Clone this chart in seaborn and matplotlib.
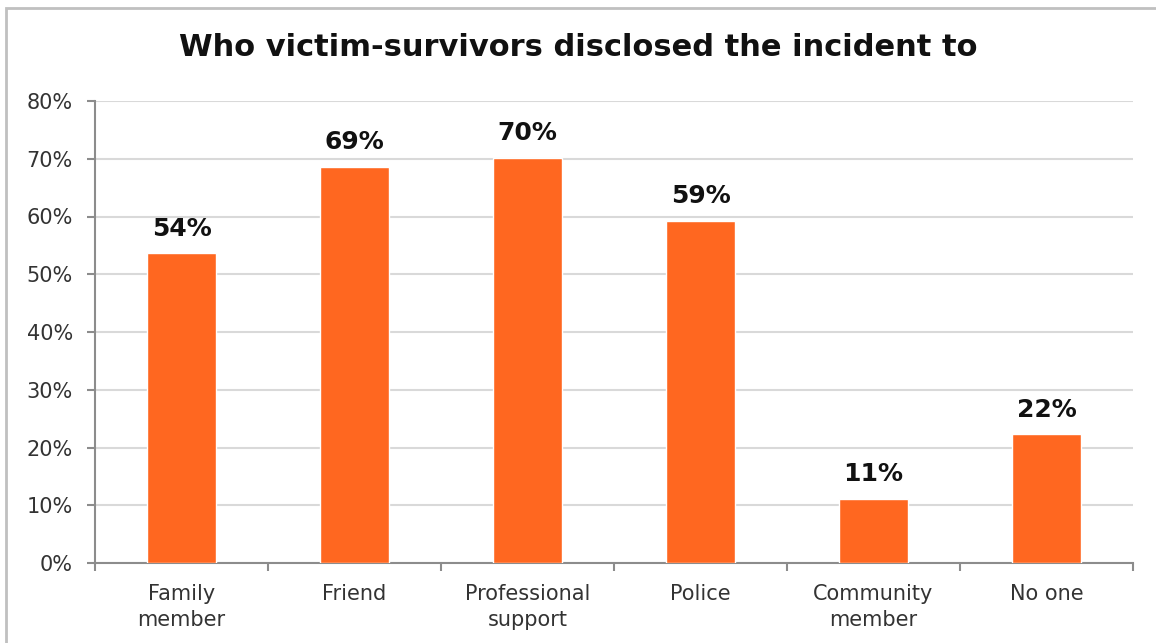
import matplotlib
matplotlib.use("Agg")
import matplotlib.pyplot as plt
from matplotlib.patches import Rectangle
from matplotlib.ticker import FixedLocator, PercentFormatter
import seaborn as sns
import pandas as pd

categories = ["Family\nmember", "Friend", "Professional\nsupport", "Police", "Community\nmember", "No one"]
shares = [53.6, 68.6, 70.2, 59.2, 11.1, 22.3]
y_ticks = [0, 10, 20, 30, 40, 50, 60, 70, 80]

df = pd.DataFrame({"recipient": categories, "share": shares})

sns.set_theme(style="white")
plt.rcParams["font.family"] = ["DejaVu Sans"]

fig = plt.figure(figsize=(11.56, 6.43), dpi=100)
ax = fig.add_axes([95 / 1156, 80 / 643, (1133 - 95) / 1156, (563 - 101) / 643])

sns.barplot(data=df, x="recipient", y="share", color="#FF6720", saturation=1,
            width=0.4, ax=ax, zorder=3)

ax.set_ylim(0, 80)
ax.set_xlim(-0.5, len(categories) - 0.5)
ax.yaxis.set_major_locator(FixedLocator(y_ticks))
ax.yaxis.set_major_formatter(PercentFormatter(decimals=0))
ax.grid(axis="y", color="#d9d9d9", linewidth=1.5, zorder=0)
ax.set_axisbelow(True)
ax.set_xlabel("")
ax.set_ylabel("")

for side in ("top", "right"):
    ax.spines[side].set_visible(False)
for side in ("left", "bottom"):
    ax.spines[side].set_color("#8c8c8c")
    ax.spines[side].set_linewidth(1.5)

ax.tick_params(axis="y", which="major", left=True, length=6, width=1.5,
               color="#8c8c8c", labelsize=15, labelcolor="#333333", pad=10)
ax.tick_params(axis="x", which="major", bottom=False, labelsize=15,
               labelcolor="#333333", pad=9)
ax.set_xticks([i - 0.5 for i in range(len(categories) + 1)], minor=True)
ax.tick_params(axis="x", which="minor", bottom=True, length=6, width=1.5,
               color="#8c8c8c")
for lbl in ax.get_xticklabels():
    lbl.set_linespacing(1.4)

for i, v in enumerate(shares):
    ax.text(i, v + 2.2, f"{v:.0f}%", ha="center", va="bottom",
            fontsize=18, fontweight="bold", color="#111111")

fig.text(0.5, 1 - 47 / 643, "Who victim-survivors disclosed the incident to",
         ha="center", va="center", fontsize=22, fontweight="bold", color="#111111")

fig.patches.append(Rectangle((6 / 1156, -0.1), 1.2, 1.1 - 8 / 643,
                             transform=fig.transFigure, fill=False,
                             edgecolor="#c0c0c0", linewidth=2))

fig.savefig("out.png", dpi=100)
